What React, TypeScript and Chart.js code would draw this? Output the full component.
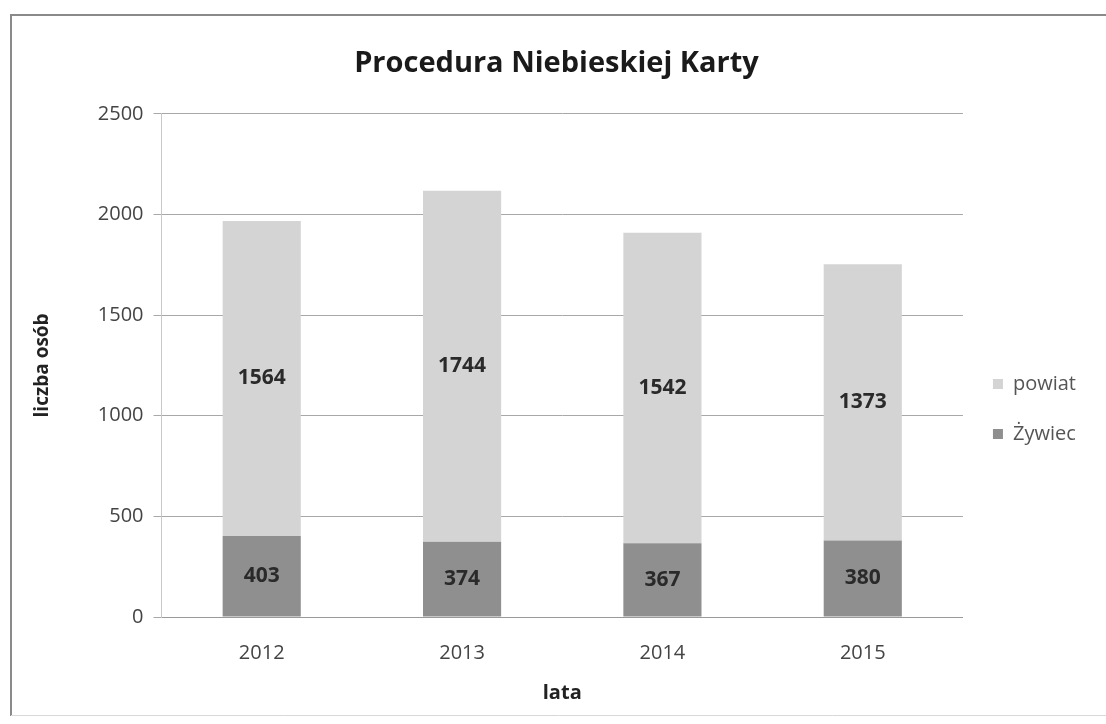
import React, { useEffect, useRef } from "react";
import { Chart, registerables } from "chart.js";

Chart.register(...registerables);

const categories = ["2012", "2013", "2014", "2015"];
const zywiecValues = [403, 374, 367, 380];
const powiatValues = [1564, 1744, 1542, 1373];
const yTicks = [0, 500, 1000, 1500, 2000, 2500];

const FONT = "'Open Sans', 'Noto Sans', sans-serif";

const dataLabelPlugin = {
  id: "dataLabels",
  afterDatasetsDraw(chart: any) {
    const ctx = chart.ctx;
    ctx.save();
    ctx.font = `bold 21px ${FONT}`;
    ctx.fillStyle = "#2a2a2a";
    ctx.textAlign = "center";
    ctx.textBaseline = "middle";
    chart.data.datasets.forEach((ds: any, di: number) => {
      const meta = chart.getDatasetMeta(di);
      meta.data.forEach((bar: any, i: number) => {
        const y = (bar.y + bar.base) / 2;
        ctx.fillText(String(ds.data[i]), bar.x, y);
      });
    });
    ctx.restore();
  },
};

const framePlugin = {
  id: "frame",
  beforeDraw(chart: any) {
    const ctx = chart.ctx;
    ctx.save();
    ctx.fillStyle = "#ffffff";
    ctx.fillRect(0, 0, chart.width, chart.height);
    ctx.strokeStyle = "#8a8a8a";
    ctx.lineWidth = 2;
    ctx.beginPath();
    ctx.moveTo(11, chart.height - 8);
    ctx.lineTo(11, 15);
    ctx.lineTo(chart.width, 15);
    ctx.stroke();
    ctx.strokeStyle = "#d8d8d8";
    ctx.lineWidth = 1;
    ctx.beginPath();
    ctx.moveTo(11, chart.height - 8.5);
    ctx.lineTo(chart.width, chart.height - 8.5);
    ctx.stroke();
    ctx.restore();
  },
};

export default function App() {
  const ref = useRef<HTMLCanvasElement>(null);
  useEffect(() => {
    if (!ref.current) return;
    const chart = new Chart(ref.current, {
      type: "bar",
      data: {
        labels: categories,
        datasets: [
          {
            label: "Żywiec",
            data: zywiecValues,
            backgroundColor: "#8f8f8f",
            barPercentage: 0.78,
            categoryPercentage: 0.5,
          },
          {
            label: "powiat",
            data: powiatValues,
            backgroundColor: "#d4d4d4",
            barPercentage: 0.78,
            categoryPercentage: 0.5,
          },
        ],
      },
      options: {
        animation: false,
        responsive: false,
        layout: { padding: { left: 27, right: 20, top: 46, bottom: 15 } },
        plugins: {
          title: {
            display: true,
            text: "Procedura Niebieskiej Karty",
            font: { family: FONT, size: 29, weight: "bold" },
            color: "#1a1a1a",
            padding: { top: 0, bottom: 33 },
          },
          legend: {
            position: "right",
            reverse: true,
            title: {
              display: true,
              text: "",
              font: { family: FONT, size: 10 },
              padding: { top: 51, bottom: 0 },
            },
            labels: {
              boxWidth: 10,
              boxHeight: 10,
              color: "#555",
              font: { family: FONT, size: 20 },
              padding: 30,
            },
          },
          tooltip: { enabled: false },
        },
        scales: {
          x: {
            stacked: true,
            grid: { display: false, drawTicks: false },
            border: { color: "#9a9a9a" },
            ticks: { color: "#444", font: { family: FONT, size: 20 }, padding: 24 },
            title: {
              display: true,
              text: "lata",
              color: "#222",
              font: { family: FONT, size: 20, weight: "bold" },
              padding: { top: -8, bottom: 4 },
            },
          },
          y: {
            stacked: true,
            min: 0,
            max: 2500,
            afterBuildTicks: (axis: any) => {
              axis.ticks = yTicks.map((v) => ({ value: v }));
            },
            grid: { color: "#a8a8a8", tickLength: 8 },
            border: { color: "#c8c8c8" },
            ticks: {
              color: "#444",
              font: { family: FONT, size: 20 },
              padding: 10,
              callback: (v: any) => String(v),
            },
            title: {
              display: true,
              text: "liczba osób",
              color: "#222",
              font: { family: FONT, size: 19, weight: "bold" },
              padding: { bottom: 34 },
            },
          },
        },
      },
      plugins: [framePlugin, dataLabelPlugin],
    });
    return () => chart.destroy();
  }, []);
  return (
    <canvas
      ref={ref}
      width={1106}
      height={724}
      style={{ position: "fixed", left: 0, top: 0, width: 1106, height: 724 }}
    />
  );
}
